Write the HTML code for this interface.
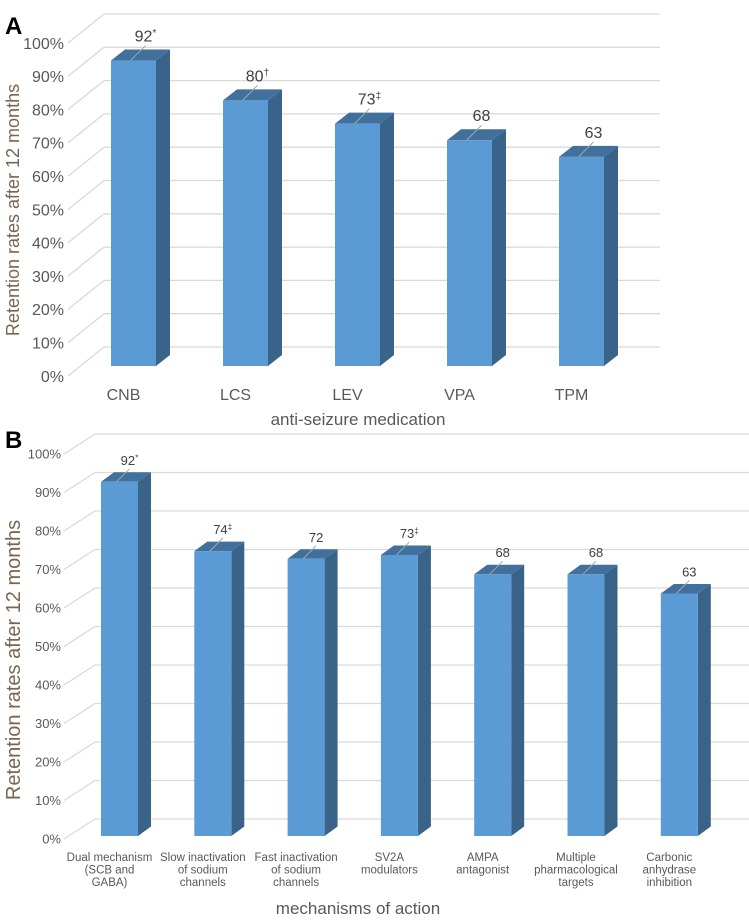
<!DOCTYPE html>
<html><head><meta charset="utf-8"><style>
body{margin:0;background:#fff;}
svg{display:block;font-family:"Liberation Sans",Arial,sans-serif;}
</style></head><body>
<svg id="s" width="749" height="920" viewBox="0 0 749 920">
<text x="5" y="34" font-size="24" font-weight="bold" fill="#000">A</text>
<text x="5" y="448" font-size="24" font-weight="bold" fill="#000">B</text>
<g id="ga"></g>
<g id="gb"></g>
</svg>
<script>
const ticksA = ["0%","10%","20%","30%","40%","50%","60%","70%","80%","90%","100%"];
const catsA = ["CNB","LCS","LEV","VPA","TPM"];
const valsA = [92,80,73,68,63];
const marksA = ["*","†","‡","",""];
const ticksB = ["0%","10%","20%","30%","40%","50%","60%","70%","80%","90%","100%"];
const catsB = [["Dual mechanism","(SCB and","GABA)"],["Slow inactivation","of sodium","channels"],["Fast inactivation","of sodium","channels"],["SV2A","modulators"],["AMPA","antagonist"],["Multiple","pharmacological","targets"],["Carbonic","anhydrase","inhibition"]];
const valsB = [92,74,72,73,68,68,63];
const marksB = ["*","‡","","‡","","",""];

const NS="http://www.w3.org/2000/svg";
function mk(g,tag,attrs,txt){const e=document.createElementNS(NS,tag);for(const k in attrs)e.setAttribute(k,attrs[k]);if(txt!==undefined)e.textContent=txt;g.appendChild(e);return e;}

function draw(g,c,ticks,cats,vals,marks){
  const fy=v=>c.f0-c.fs*v, by=v=>c.b0-c.fs*v, ry=v=>c.r0-c.rs*v;
  ticks.forEach((t,i)=>{
    const v=i*10;
    const l1=mk(g,'line',{x1:c.fx,y1:fy(v),x2:c.bx,y2:by(v),stroke:'#d9d9d9','stroke-width':1.3});
    
    
    const l2=mk(g,'line',{x1:c.bx,y1:by(v),x2:c.xe,y2:by(v),stroke:'#d9d9d9','stroke-width':1.3});
    
    
    const tl=mk(g,'text',{x:c.tx,y:fy(v)+c.tf*0.36,'text-anchor':'end','font-size':c.tf,fill:'#595959'},t);
    
    
  });
  vals.forEach((v,i)=>{
    const x=c.x0+i*c.sp, w=c.bw, d=c.dx, h=c.dy, top=ry(v), bot=c.r0;
    const side=mk(g,'polygon',{points:`${x+w},${top} ${x+w+d},${top-h} ${x+w+d},${bot-h} ${x+w},${bot}`,fill:'#3a6389'});
    
    
    const tp=mk(g,'polygon',{points:`${x},${top} ${x+d},${top-h} ${x+w+d},${top-h} ${x+w},${top}`,fill:'#41709c'});
    
    
    const fr=mk(g,'rect',{x:x,y:top,width:w,height:bot-top,fill:'#5b9bd5'});
    
    
    const lx=x+w/2+c.lo;
    const ln=mk(g,'line',{x1:x+w/2-3,y1:top,x2:lx,y2:top-c.lh,stroke:'#a6a6a6','stroke-width':1});
    
    
    const vl=mk(g,'text',{x:lx,y:top-c.lh-4,'text-anchor':'middle','font-size':c.vf,fill:'#404040'});
    
    
    mk(vl,'tspan',{},String(v));
    if(marks[i]) mk(vl,'tspan',{'font-size':c.vf*0.65,dy:-c.vf*0.35},marks[i]);
    const lines=Array.isArray(cats[i])?cats[i]:[cats[i]];
    const cl=mk(g,'text',{x:x+w/2+c.co,y:c.cy,'text-anchor':'middle','font-size':c.cf,fill:'#595959'});
    
    
    lines.forEach((s,j)=>{mk(cl,'tspan',{x:x+w/2+c.co,dy:j?c.clh:0},s);});
  });
  const yt=mk(g,'text',{x:0,y:0,transform:`translate(${c.ytx},${c.yty}) rotate(-90)`,'text-anchor':'middle','font-size':c.ytf,fill:'#7a6650'},'Retention rates after 12 months');
  
  
  const xt=mk(g,'text',{x:c.xtx,y:c.xty,'text-anchor':'middle','font-size':c.xtf,fill:'#595959'},c.xtitle);
  
  
}
draw(document.getElementById('ga'),{fx:68,bx:104,xe:660,f0:376,b0:347,fs:3.33,r0:366,rs:3.32,tx:64,tf:16,
  x0:111,sp:112,bw:45,dx:14,dy:11,lo:12,lh:15,vf:16,co:-10,cy:400,cf:16,clh:14,
  ytx:19,yty:210,ytf:18,xtx:358,xty:425,xtf:17,xtitle:'anti-seizure medication'},ticksA,catsA,valsA,marksA);
draw(document.getElementById('gb'),{fx:64,bx:95,xe:749,f0:839,b0:819,fs:3.85,r0:836,rs:3.85,tx:61,tf:13,
  x0:101,sp:93.3,bw:37,dx:13,dy:9.5,lo:10,lh:13,vf:13,co:-10,cy:861,cf:11.5,clh:12.5,
  ytx:20,yty:660,ytf:20,xtx:358,xty:914,xtf:17,xtitle:'mechanisms of action'},ticksB,catsB,valsB,marksB);
</script>
</body></html>
